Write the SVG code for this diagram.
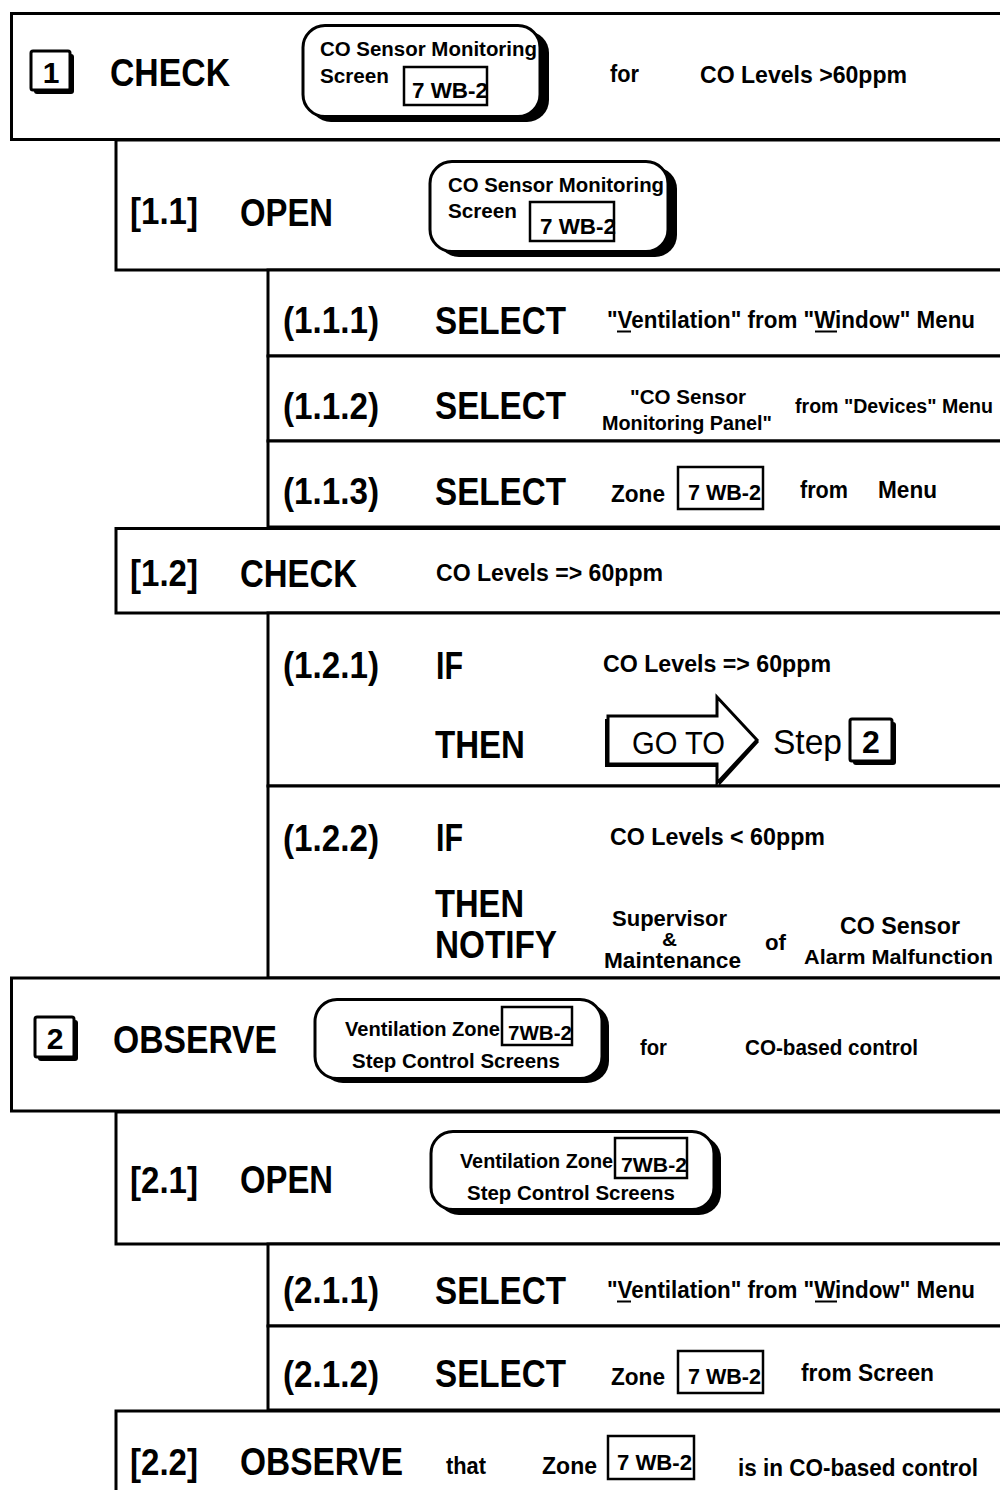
<svg xmlns="http://www.w3.org/2000/svg" width="1000" height="1490" viewBox="0 0 1000 1490">
<style>
.b{fill:#fff;stroke:#000;stroke-width:3}
.ib{fill:none;stroke:#000;stroke-width:2.5}
.rb{fill:#fff;stroke:#000;stroke-width:3}
.sh{fill:#000}
.ul{stroke:#000;stroke-width:2}
text{font-family:"Liberation Sans",Arial,Helvetica,sans-serif;font-weight:bold;fill:#000}
.L{font-size:39px}
.K{font-size:37px}
.m{font-size:24px}
.s{font-size:20px}
.n{font-weight:normal}
</style>
<rect width="1000" height="1490" fill="#fff"/>
<g id="connectors"></g>

<g id="step1">
<rect class="b" x="11.5" y="13.5" width="1000" height="126"/>
<rect class="sh" x="34" y="54" width="40" height="40" rx="3"/>
<rect class="b" x="31" y="51" width="39" height="39" rx="2"/>
<text x="51" y="83" text-anchor="middle" style="font-size:30px">1</text>
<text class="L" x="110" y="86" textLength="120" lengthAdjust="spacingAndGlyphs">CHECK</text>
<rect class="sh" x="309" y="31" width="240" height="91" rx="22"/>
<rect class="rb" x="303" y="25.5" width="237" height="91" rx="22"/>
<text class="s" x="320" y="56" textLength="217" lengthAdjust="spacingAndGlyphs">CO Sensor Monitoring</text>
<text class="s" x="320" y="83" textLength="69" lengthAdjust="spacingAndGlyphs">Screen</text>
<rect class="ib" x="404" y="67" width="83" height="38"/>
<text x="412" y="98" style="font-size:22px" textLength="76" lengthAdjust="spacingAndGlyphs">7 WB-2</text>
<text class="m" x="610" y="82" textLength="29" lengthAdjust="spacingAndGlyphs">for</text>
<text class="m" x="700" y="83" textLength="207" lengthAdjust="spacingAndGlyphs">CO Levels &gt;60ppm</text>
</g>

<g id="step1-1">
<rect class="b" x="116" y="140" width="900" height="130"/>
<text class="K" x="130" y="224" textLength="68" lengthAdjust="spacingAndGlyphs">[1.1]</text>
<text class="L" x="240" y="226" textLength="93" lengthAdjust="spacingAndGlyphs">OPEN</text>
<rect class="sh" x="437" y="167" width="240" height="90" rx="22"/>
<rect class="rb" x="430" y="161.5" width="238" height="90" rx="22"/>
<text class="s" x="448" y="192" textLength="216" lengthAdjust="spacingAndGlyphs">CO Sensor Monitoring</text>
<text class="s" x="448" y="218" textLength="69" lengthAdjust="spacingAndGlyphs">Screen</text>
<rect class="ib" x="530" y="202" width="84" height="39"/>
<text x="540" y="234" style="font-size:22px" textLength="76" lengthAdjust="spacingAndGlyphs">7 WB-2</text>
</g>

<g id="step1-1-1">
<rect class="b" x="268" y="270" width="800" height="86"/>
<text class="K" x="283" y="333" textLength="96" lengthAdjust="spacingAndGlyphs">(1.1.1)</text>
<text class="L" x="435" y="334" textLength="131" lengthAdjust="spacingAndGlyphs">SELECT</text>
<text x="607" y="328" style="font-size:23px" textLength="368" lengthAdjust="spacingAndGlyphs">"Ventilation"  from "Window" Menu</text>
<line class="ul" x1="617" y1="331.5" x2="631" y2="331.5"/>
<line class="ul" x1="815" y1="331.5" x2="837" y2="331.5"/>
</g>

<g id="step1-1-2">
<rect class="b" x="268" y="356" width="800" height="85"/>
<text class="K" x="283" y="419" textLength="96" lengthAdjust="spacingAndGlyphs">(1.1.2)</text>
<text class="L" x="435" y="419" textLength="131" lengthAdjust="spacingAndGlyphs">SELECT</text>
<text x="630" y="404" style="font-size:21px" textLength="116" lengthAdjust="spacingAndGlyphs">"CO Sensor</text>
<text x="602" y="430" style="font-size:21px" textLength="170" lengthAdjust="spacingAndGlyphs">Monitoring Panel"</text>
<text x="795" y="413" style="font-size:20px" textLength="198" lengthAdjust="spacingAndGlyphs">from "Devices" Menu</text>
</g>

<g id="step1-1-3">
<rect class="b" x="268" y="441" width="800" height="86"/>
<text class="K" x="283" y="504" textLength="96" lengthAdjust="spacingAndGlyphs">(1.1.3)</text>
<text class="L" x="435" y="505" textLength="131" lengthAdjust="spacingAndGlyphs">SELECT</text>
<text class="m" x="611" y="502" textLength="54" lengthAdjust="spacingAndGlyphs">Zone</text>
<rect class="ib" x="678" y="467" width="85" height="42"/>
<text x="688" y="500" style="font-size:22px" textLength="73" lengthAdjust="spacingAndGlyphs">7 WB-2</text>
<text class="m" x="800" y="498" textLength="48" lengthAdjust="spacingAndGlyphs">from</text>
<text class="m" x="878" y="498" textLength="59" lengthAdjust="spacingAndGlyphs">Menu</text>
</g>

<g id="step1-2">
<rect class="b" x="116" y="528.5" width="900" height="84.5"/>
<text class="K" x="130" y="586" textLength="68" lengthAdjust="spacingAndGlyphs">[1.2]</text>
<text class="L" x="240" y="587" textLength="117" lengthAdjust="spacingAndGlyphs">CHECK</text>
<text x="436" y="581" style="font-size:23px" textLength="227" lengthAdjust="spacingAndGlyphs">CO Levels =&gt; 60ppm</text>
</g>

<g id="step1-2-1">
<rect class="b" x="268" y="613" width="800" height="173"/>
<text class="K" x="283" y="678" textLength="96" lengthAdjust="spacingAndGlyphs">(1.2.1)</text>
<text class="L" x="436" y="679" textLength="27" lengthAdjust="spacingAndGlyphs">IF</text>
<text x="603" y="672" style="font-size:23px" textLength="228" lengthAdjust="spacingAndGlyphs">CO Levels =&gt; 60ppm</text>
<text class="L" x="435" y="758" textLength="90" lengthAdjust="spacingAndGlyphs">THEN</text>
<polygon points="605,719 605,767 719,767 719,786 759,742 719,698 719,719" fill="#000"/>
<polygon points="608,716 608,764 717,764 717,783 757,740 717,697 717,716" fill="#fff" stroke="#000" stroke-width="3" stroke-linejoin="miter"/>
<text class="n" x="632" y="754" style="font-size:31px" textLength="93" lengthAdjust="spacingAndGlyphs">GO TO</text>
<text class="n" x="773" y="754" style="font-size:35px" textLength="69" lengthAdjust="spacingAndGlyphs">Step</text>
<rect class="sh" x="853" y="722" width="43" height="43" rx="3"/>
<rect class="b" x="850" y="719" width="42" height="42" rx="2"/>
<text x="871" y="753" text-anchor="middle" style="font-size:32px">2</text>
</g>

<g id="step1-2-2">
<rect class="b" x="268" y="786" width="800" height="192"/>
<text class="K" x="283" y="851" textLength="96" lengthAdjust="spacingAndGlyphs">(1.2.2)</text>
<text class="L" x="436" y="851" textLength="27" lengthAdjust="spacingAndGlyphs">IF</text>
<text x="610" y="845" style="font-size:23px" textLength="215" lengthAdjust="spacingAndGlyphs">CO Levels &lt; 60ppm</text>
<text class="L" x="435" y="917" textLength="89" lengthAdjust="spacingAndGlyphs">THEN</text>
<text class="L" x="435" y="958" textLength="122" lengthAdjust="spacingAndGlyphs">NOTIFY</text>
<text x="612" y="926" style="font-size:22px" textLength="115" lengthAdjust="spacingAndGlyphs">Supervisor</text>
<text x="662" y="946" style="font-size:19px" textLength="15" lengthAdjust="spacingAndGlyphs">&amp;</text>
<text x="604" y="968" style="font-size:22px" textLength="137" lengthAdjust="spacingAndGlyphs">Maintenance</text>
<text x="765" y="950" style="font-size:22px" textLength="21" lengthAdjust="spacingAndGlyphs">of</text>
<text x="840" y="934" style="font-size:23px" textLength="120" lengthAdjust="spacingAndGlyphs">CO Sensor</text>
<text x="804" y="964" style="font-size:21px" textLength="189" lengthAdjust="spacingAndGlyphs">Alarm Malfunction</text>
</g>

<g id="step2">
<rect class="b" x="11.5" y="978" width="1000" height="133"/>
<rect class="sh" x="38" y="1020" width="40" height="41" rx="3"/>
<rect class="b" x="35" y="1017" width="39" height="40" rx="2"/>
<text x="55" y="1049" text-anchor="middle" style="font-size:30px">2</text>
<text class="L" x="113" y="1053" textLength="164" lengthAdjust="spacingAndGlyphs">OBSERVE</text>
<rect class="sh" x="321" y="1004" width="288" height="79" rx="22"/>
<rect class="rb" x="315" y="999.5" width="287" height="79" rx="22"/>
<text class="s" x="345" y="1036" textLength="155" lengthAdjust="spacingAndGlyphs">Ventilation Zone</text>
<rect class="ib" x="502" y="1007" width="70" height="38" fill="#fff"/>
<text class="s" x="508" y="1040" textLength="64" lengthAdjust="spacingAndGlyphs">7WB-2</text>
<text class="s" x="352" y="1068" textLength="208" lengthAdjust="spacingAndGlyphs">Step Control Screens</text>
<text x="640" y="1055" style="font-size:22px" textLength="27" lengthAdjust="spacingAndGlyphs">for</text>
<text x="745" y="1055" style="font-size:22px" textLength="173" lengthAdjust="spacingAndGlyphs">CO-based control</text>
</g>

<g id="step2-1">
<rect class="b" x="116" y="1112" width="900" height="132"/>
<text class="K" x="130" y="1193" textLength="68" lengthAdjust="spacingAndGlyphs">[2.1]</text>
<text class="L" x="240" y="1193" textLength="93" lengthAdjust="spacingAndGlyphs">OPEN</text>
<rect class="sh" x="437" y="1136" width="284" height="79" rx="22"/>
<rect class="rb" x="431" y="1131.5" width="283" height="78" rx="22"/>
<text class="s" x="460" y="1168" textLength="153" lengthAdjust="spacingAndGlyphs">Ventilation Zone</text>
<rect class="ib" x="615" y="1138" width="72" height="40"/>
<text class="s" x="621" y="1172" textLength="66" lengthAdjust="spacingAndGlyphs">7WB-2</text>
<text class="s" x="467" y="1200" textLength="208" lengthAdjust="spacingAndGlyphs">Step Control Screens</text>
</g>

<g id="step2-1-1">
<rect class="b" x="268" y="1244" width="800" height="82"/>
<text class="K" x="283" y="1303" textLength="96" lengthAdjust="spacingAndGlyphs">(2.1.1)</text>
<text class="L" x="435" y="1304" textLength="131" lengthAdjust="spacingAndGlyphs">SELECT</text>
<text x="607" y="1298" style="font-size:23px" textLength="368" lengthAdjust="spacingAndGlyphs">"Ventilation"  from "Window" Menu</text>
<line class="ul" x1="617" y1="1301.5" x2="631" y2="1301.5"/>
<line class="ul" x1="815" y1="1301.5" x2="837" y2="1301.5"/>
</g>

<g id="step2-1-2">
<rect class="b" x="268" y="1326" width="800" height="84"/>
<text class="K" x="283" y="1387" textLength="96" lengthAdjust="spacingAndGlyphs">(2.1.2)</text>
<text class="L" x="435" y="1387" textLength="131" lengthAdjust="spacingAndGlyphs">SELECT</text>
<text class="m" x="611" y="1385" textLength="54" lengthAdjust="spacingAndGlyphs">Zone</text>
<rect class="ib" x="678" y="1351" width="85" height="42"/>
<text x="688" y="1384" style="font-size:22px" textLength="73" lengthAdjust="spacingAndGlyphs">7 WB-2</text>
<text class="m" x="801" y="1381" textLength="133" lengthAdjust="spacingAndGlyphs">from Screen</text>
</g>

<g id="step2-2">
<rect class="b" x="116" y="1411" width="900" height="100"/>
<text class="K" x="130" y="1475" textLength="68" lengthAdjust="spacingAndGlyphs">[2.2]</text>
<text class="L" x="240" y="1475" textLength="163" lengthAdjust="spacingAndGlyphs">OBSERVE</text>
<text class="m" x="446" y="1474" textLength="40" lengthAdjust="spacingAndGlyphs">that</text>
<text class="m" x="542" y="1474" textLength="55" lengthAdjust="spacingAndGlyphs">Zone</text>
<rect class="ib" x="608" y="1436" width="86" height="43"/>
<text x="617" y="1470" style="font-size:22px" textLength="75" lengthAdjust="spacingAndGlyphs">7 WB-2</text>
<text class="m" x="738" y="1476" textLength="240" lengthAdjust="spacingAndGlyphs">is in CO-based control</text>
</g>
</svg>
